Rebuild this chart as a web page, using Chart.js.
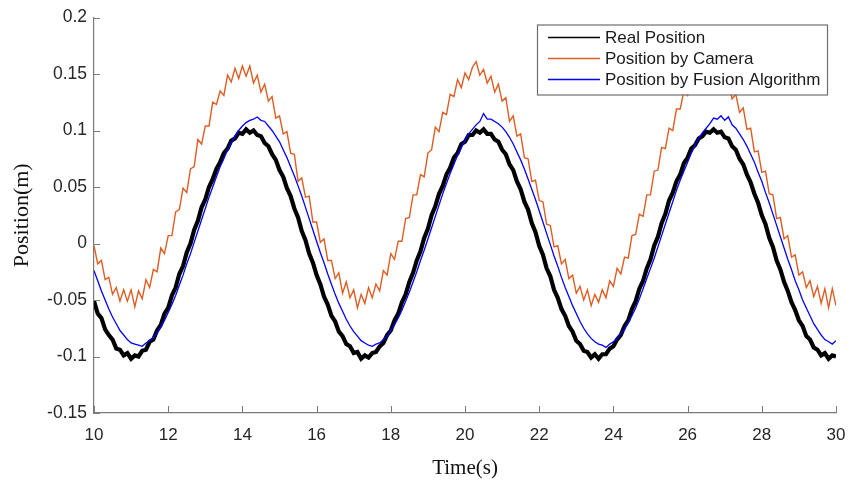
<!DOCTYPE html>
<html>
<head>
<meta charset="utf-8">
<script src="https://cdn.jsdelivr.net/npm/chart.js@4.4.1/dist/chart.umd.min.js"></script>
<style>
  html, body { margin: 0; padding: 0; background: #fff; }
  canvas { display: block; }
</style>
</head>
<body>
<canvas id="chart" width="861" height="482"></canvas>
<script>
// samples every 0.1 s from 10 s to 30 s
const T_START = 10;
const T_STEP = 0.1;

const seriesNames = ["Real Position", "Position by Camera", "Position by Fusion Algorithm"];

// Position (m)
const realPosition = [
  -0.051,-0.062,-0.066,-0.076,-0.081,-0.085,-0.093,-0.094,-0.099,-0.097,
  -0.102,-0.099,-0.100,-0.095,-0.094,-0.087,-0.085,-0.077,-0.072,-0.062,
  -0.057,-0.046,-0.039,-0.027,-0.020,-0.008,0.000,0.012,0.020,0.032,
  0.039,0.050,0.057,0.066,0.072,0.080,0.084,0.091,0.093,0.098,
  0.097,0.101,0.098,0.100,0.096,0.095,0.089,0.086,0.079,0.074,
  0.065,0.059,0.049,0.042,0.031,0.023,0.011,0.003,-0.009,-0.017,
  -0.028,-0.036,-0.047,-0.054,-0.064,-0.069,-0.078,-0.082,-0.089,-0.091,
  -0.097,-0.096,-0.102,-0.099,-0.101,-0.097,-0.096,-0.091,-0.088,-0.081,
  -0.077,-0.068,-0.062,-0.052,-0.045,-0.034,-0.026,-0.015,-0.007,0.005,
  0.013,0.025,0.033,0.044,0.051,0.061,0.067,0.076,0.080,0.088,
  0.090,0.096,0.096,0.100,0.098,0.101,0.097,0.097,0.092,0.090,
  0.083,0.079,0.070,0.065,0.055,0.048,0.037,0.030,0.018,0.010,
  -0.002,-0.010,-0.022,-0.029,-0.041,-0.048,-0.058,-0.064,-0.073,-0.078,
  -0.086,-0.089,-0.095,-0.096,-0.101,-0.098,-0.102,-0.098,-0.098,-0.093,
  -0.091,-0.085,-0.081,-0.073,-0.068,-0.058,-0.051,-0.040,-0.033,-0.022,
  -0.014,-0.002,0.006,0.018,0.026,0.038,0.045,0.055,0.061,0.071,
  0.076,0.084,0.087,0.093,0.095,0.099,0.098,0.101,0.098,0.099,
  0.094,0.093,0.086,0.083,0.075,0.070,0.061,0.054,0.044,0.036,
  0.025,0.017,0.005,-0.003,-0.015,-0.023,-0.034,-0.042,-0.052,-0.059,
  -0.068,-0.073,-0.082,-0.085,-0.092,-0.094,-0.099,-0.097,-0.102,-0.099,
  -0.100
];

const cameraPosition = [
  -0.002,-0.018,-0.015,-0.032,-0.030,-0.045,-0.039,-0.051,-0.041,-0.051,
  -0.041,-0.056,-0.042,-0.049,-0.032,-0.039,-0.023,-0.025,-0.004,-0.009,
  0.007,0.007,0.028,0.030,0.049,0.045,0.066,0.068,0.092,0.088,
  0.104,0.104,0.125,0.123,0.135,0.131,0.149,0.143,0.155,0.146,
  0.157,0.148,0.157,0.142,0.149,0.134,0.141,0.126,0.130,0.111,
  0.113,0.097,0.099,0.080,0.079,0.055,0.058,0.041,0.042,0.019,
  0.019,0.001,0.004,-0.015,-0.015,-0.031,-0.026,-0.044,-0.034,-0.048,
  -0.041,-0.057,-0.045,-0.053,-0.039,-0.048,-0.036,-0.042,-0.024,-0.028,
  -0.009,-0.014,0.002,0.002,0.022,0.023,0.043,0.043,0.061,0.059,
  0.080,0.083,0.103,0.099,0.116,0.114,0.132,0.130,0.145,0.138,
  0.151,0.145,0.156,0.161,0.149,0.154,0.142,0.148,0.134,0.141,
  0.126,0.129,0.108,0.113,0.095,0.097,0.076,0.075,0.055,0.056,
  0.038,0.037,0.017,0.016,-0.003,-0.002,-0.018,-0.014,-0.031,-0.028,
  -0.044,-0.038,-0.050,-0.041,-0.055,-0.045,-0.052,-0.041,-0.048,-0.033,
  -0.038,-0.022,-0.027,-0.012,-0.013,0.007,0.008,0.026,0.024,0.043,
  0.043,0.064,0.065,0.085,0.084,0.102,0.100,0.119,0.119,0.135,
  0.131,0.145,0.139,0.154,0.146,0.156,0.146,0.156,0.145,0.153,
  0.140,0.144,0.128,0.132,0.116,0.120,0.101,0.102,0.081,0.082,
  0.063,0.064,0.044,0.043,0.022,0.023,0.004,0.007,-0.012,-0.010,
  -0.028,-0.025,-0.039,-0.033,-0.047,-0.038,-0.053,-0.040,-0.057,-0.040,
  -0.055
];

const fusionPosition = [
  -0.024,-0.033,-0.042,-0.050,-0.058,-0.065,-0.071,-0.077,-0.081,-0.085,
  -0.088,-0.089,-0.090,-0.091,-0.088,-0.086,-0.083,-0.079,-0.074,-0.068,
  -0.061,-0.054,-0.046,-0.037,-0.028,-0.018,-0.009,0.001,0.011,0.021,
  0.031,0.041,0.050,0.059,0.068,0.075,0.083,0.089,0.095,0.100,
  0.104,0.107,0.109,0.110,0.112,0.109,0.108,0.104,0.100,0.095,
  0.090,0.083,0.076,0.068,0.060,0.051,0.042,0.032,0.022,0.012,
  0.002,-0.008,-0.017,-0.027,-0.036,-0.045,-0.053,-0.060,-0.067,-0.073,
  -0.078,-0.082,-0.086,-0.088,-0.090,-0.091,-0.089,-0.088,-0.085,-0.082,
  -0.077,-0.072,-0.066,-0.059,-0.051,-0.043,-0.034,-0.025,-0.015,-0.006,
  0.004,0.014,0.024,0.034,0.044,0.053,0.062,0.070,0.078,0.085,
  0.091,0.097,0.101,0.105,0.108,0.115,0.110,0.110,0.108,0.106,
  0.103,0.099,0.094,0.088,0.081,0.074,0.066,0.057,0.048,0.039,
  0.029,0.019,0.009,-0.001,-0.011,-0.020,-0.030,-0.039,-0.047,-0.055,
  -0.062,-0.069,-0.075,-0.080,-0.084,-0.087,-0.089,-0.090,-0.092,-0.089,
  -0.087,-0.084,-0.080,-0.076,-0.070,-0.064,-0.057,-0.049,-0.040,-0.031,
  -0.022,-0.013,-0.003,0.007,0.017,0.027,0.037,0.047,0.056,0.064,
  0.072,0.080,0.087,0.093,0.098,0.102,0.106,0.111,0.110,0.113,
  0.109,0.112,0.105,0.102,0.097,0.092,0.086,0.079,0.072,0.063,
  0.055,0.045,0.036,0.026,0.016,0.006,-0.004,-0.014,-0.023,-0.033,
  -0.041,-0.050,-0.057,-0.064,-0.071,-0.076,-0.081,-0.085,-0.087,-0.089,
  -0.086
];

const xTicks = { min: 10, max: 30, step: 2 };
const yTicks = { min: -0.15, max: 0.2, step: 0.05 };

const AXIS_COLOR = "#7a7a7a";
const TEXT_COLOR = "#262626";
const SANS = "'Liberation Sans', Arial, sans-serif";
const SERIF = "'Liberation Serif', 'Times New Roman', serif";

const toPoints = (vals) => vals.map((v, i) => ({ x: T_START + i * T_STEP, y: v }));
const fmt = (v) => String(Number(v.toFixed(2)));

// MATLAB style ticks pointing into the plot
const innerTicks = {
    id: "innerTicks",
    afterDraw(chart) {
        const { ctx, chartArea: a, scales } = chart;
        ctx.save();
        ctx.strokeStyle = AXIS_COLOR;
        ctx.lineWidth = 1;
        ctx.beginPath();
        scales.x.ticks.forEach((t) => {
            const px = Math.round(scales.x.getPixelForValue(t.value)) + 0.5;
            ctx.moveTo(px, a.bottom);
            ctx.lineTo(px, a.bottom - 7);
        });
        scales.y.ticks.forEach((t) => {
            const py = Math.round(scales.y.getPixelForValue(t.value)) + 0.5;
            ctx.moveTo(a.left, py);
            ctx.lineTo(a.left + 6, py);
        });
        ctx.stroke();
        ctx.restore();
    },
};

// boxed legend in the upper right corner
const boxLegend = {
    id: "boxLegend",
    afterDatasetsDraw(chart) {
        const { ctx, chartArea: a } = chart;
        const x1 = a.right - 9, x0 = x1 - 290, y0 = a.top + 7, h = 70;
        ctx.save();
        ctx.fillStyle = "#fff";
        ctx.fillRect(x0, y0, x1 - x0, h);
        ctx.strokeStyle = "#6e6e6e";
        ctx.lineWidth = 1.2;
        ctx.strokeRect(x0 + 0.5, y0 + 0.5, x1 - x0, h);
        ctx.font = "17px " + SANS;
        ctx.textBaseline = "middle";
        chart.data.datasets.forEach((ds, i) => {
            const y = y0 + 13 + i * 21;
            ctx.strokeStyle = ds.borderColor;
            ctx.lineWidth = 1.3;
            ctx.beginPath();
            ctx.moveTo(x0 + 11, y);
            ctx.lineTo(x0 + 63, y);
            ctx.stroke();
            ctx.fillStyle = "#1a1a1a";
            ctx.fillText(ds.label, x0 + 68, y + 1);
        });
        ctx.restore();
    },
};

new Chart(document.getElementById("chart"), {
    type: "line",
    data: {
        datasets: [
            {
                label: seriesNames[0],
                data: toPoints(realPosition),
                borderColor: "#000000",
                borderWidth: 4.2,
                order: 3,
            },
            {
                label: seriesNames[1],
                data: toPoints(cameraPosition),
                borderColor: "#DE5D22",
                borderWidth: 1.4,
                order: 2,
            },
            {
                label: seriesNames[2],
                data: toPoints(fusionPosition),
                borderColor: "#0000FF",
                borderWidth: 1.3,
                order: 1,
            },
        ],
    },
    options: {
        responsive: false,
        animation: false,
        devicePixelRatio: 1,
        layout: { padding: { top: 15, right: 25, bottom: 0, left: 0 } },
        elements: { point: { radius: 0 }, line: { tension: 0 } },
        plugins: { legend: { display: false }, tooltip: { enabled: false } },
        scales: {
            x: {
                type: "linear",
                min: xTicks.min,
                max: xTicks.max,
                afterFit: (s) => { s.height = 69; },
                grid: { display: false, drawTicks: false },
                border: { color: AXIS_COLOR, width: 1.2 },
                ticks: {
                    stepSize: xTicks.step,
                    padding: 12,
                    color: TEXT_COLOR,
                    font: { family: SANS, size: 17 },
                    maxRotation: 0,
                    callback: (v) => fmt(v),
                },
                title: {
                    display: true,
                    text: "Time(s)",
                    color: "#111",
                    font: { family: SERIF, size: 21 },
                    padding: { top: 0, bottom: 1 },
                },
            },
            y: {
                min: yTicks.min,
                max: yTicks.max,
                afterFit: (s) => { s.width = 94; },
                grid: { display: false, drawTicks: false },
                border: { color: AXIS_COLOR, width: 1.2 },
                ticks: {
                    stepSize: yTicks.step,
                    padding: 7,
                    color: TEXT_COLOR,
                    font: { family: SANS, size: 17.5 },
                    callback: (v) => fmt(v),
                },
                title: {
                    display: true,
                    text: "Position(m)",
                    color: "#111",
                    font: { family: SERIF, size: 22 },
                    padding: { top: 9, bottom: 0 },
                },
            },
        },
    },
    plugins: [innerTicks, boxLegend],
});
</script>
</body>
</html>
